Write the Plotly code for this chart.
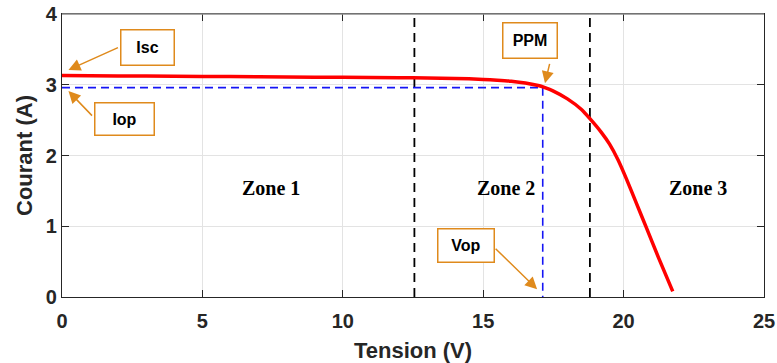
import plotly.graph_objects as go

# I-V curve data
tension = [0, 2, 4, 6, 8, 10, 12, 13, 14, 15, 15.5, 16, 16.5, 17, 17.15, 17.5, 18, 18.5,
           18.8, 19.2, 19.5, 19.8, 20.1, 20.45, 20.8, 21.25, 21.75]
courant = [3.13, 3.125, 3.12, 3.115, 3.11, 3.105, 3.10, 3.095, 3.09, 3.075, 3.065, 3.05,
           3.025, 2.985, 2.965, 2.91, 2.80, 2.65, 2.52, 2.33, 2.16, 1.94, 1.67, 1.33,
           0.99, 0.55, 0.08]

zone_limits = [12.55, 18.8]
Vop = 17.12
Iop = 2.96
zone_labels = ["Zone 1", "Zone 2", "Zone 3"]
zone_x = [7.44, 15.82, 22.65]
zone_y = [1.54, 1.54, 1.54]

x_ticks = [0, 5, 10, 15, 20, 25]
y_ticks = [0, 1, 2, 3, 4]

ORANGE = "#DF8A1C"
DARK = "#262626"

fig = go.Figure()

for zl in zone_limits:
    fig.add_trace(go.Scatter(x=[zl, zl], y=[0, 4], mode="lines",
                             line=dict(color="black", width=1.8, dash="9px,6px"),
                             showlegend=False, hoverinfo="skip"))

fig.add_trace(go.Scatter(x=[0, Vop, Vop], y=[Iop, Iop, 0], mode="lines",
                         line=dict(color="#1515F5", width=1.6, dash="8px,5px"),
                         showlegend=False, hoverinfo="skip"))

fig.add_trace(go.Scatter(x=tension, y=courant, mode="lines",
                         line=dict(color="#FF0000", width=3.5, shape="spline", smoothing=0.5),
                         showlegend=False))

for t, xx, yy in zip(zone_labels, zone_x, zone_y):
    fig.add_annotation(x=xx, y=yy, text=t, showarrow=False,
                       font=dict(family="Liberation Serif, Times New Roman", size=20,
                                 color="black", weight="bold"))

# Label boxes
boxes = [
    ("Isc", 3.04, 3.53, 50, 32),
    ("Iop", 2.22, 2.51, 56, 29),
    ("PPM", 16.65, 3.62, 51, 32),
    ("Vop", 14.38, 0.73, 53, 30),
]
for t, xx, yy, w, h in boxes:
    fig.add_annotation(x=xx, y=yy, text=t, showarrow=False, width=w, height=h,
                       bgcolor="white", bordercolor=ORANGE, borderwidth=1.5, borderpad=1,
                       font=dict(family="Liberation Sans, Arial", size=16, color="black",
                                 weight="bold"))

# Arrows (head at x,y; tail offset in pixels)
arrows = [
    (0.23, 3.21, 51, -23),
    (0.23, 2.91, 25, 26),
    (17.2, 3.02, 5, -21),
    (16.92, 0.11, -43, -42),
]
for xx, yy, ax, ay in arrows:
    fig.add_annotation(x=xx, y=yy, ax=ax, ay=ay, text="", showarrow=True,
                       arrowhead=2, arrowsize=1.6, arrowwidth=1.5, arrowcolor=ORANGE)

# top border gray
fig.add_shape(type="line", xref="paper", yref="paper", x0=0, x1=1, y0=1, y1=1,
              line=dict(color="#8C8C8C", width=1.5))

axis_common = dict(showgrid=True, gridcolor="#E3E3E3", gridwidth=1, zeroline=False,
                   showline=True, linecolor=DARK, linewidth=1.2, mirror="ticks",
                   ticks="inside", ticklen=7, tickcolor=DARK, tickwidth=1.2,
                   automargin=False,
                   tickfont=dict(family="Liberation Sans, Arial", size=20, color=DARK,
                                 weight="bold"))

fig.update_xaxes(range=[0, 25], tickvals=x_ticks, ticklabelstandoff=6,
                 title=dict(text="Tension (V)", standoff=12,
                            font=dict(family="Liberation Sans, Arial", size=22,
                                      color=DARK, weight="bold")),
                 **axis_common)
fig.update_yaxes(range=[0, 4], tickvals=y_ticks,
                 title=dict(text="Courant (A)", standoff=7,
                            font=dict(family="Liberation Sans, Arial", size=22,
                                      color=DARK, weight="bold")),
                 **axis_common)

fig.update_layout(width=777, height=363, margin=dict(l=62, r=13, t=14, b=66),
                  plot_bgcolor="white", paper_bgcolor="white")

fig.write_html("out.html")
